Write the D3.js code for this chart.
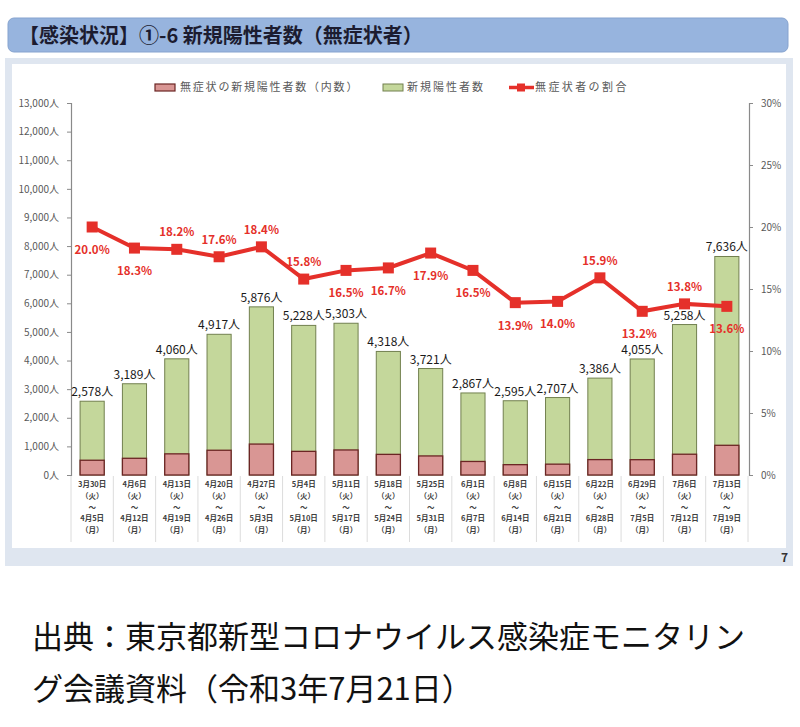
<!DOCTYPE html>
<html><head><meta charset="utf-8">
<script src="https://cdn.jsdelivr.net/npm/d3@7"></script>
<style>
html,body{margin:0;padding:0;background:#fff;}
svg{display:block;font-family:"Noto Sans CJK JP","Noto Sans",sans-serif;}
</style></head>
<body>
<svg id="chart" width="800" height="727"></svg>
<script>
// ---- data ----
const startDates = ["3月30日","4月6日","4月13日","4月20日","4月27日","5月4日","5月11日","5月18日","5月25日","6月1日","6月8日","6月15日","6月22日","6月29日","7月6日","7月13日"];
const endDates   = ["4月5日","4月12日","4月19日","4月26日","5月3日","5月10日","5月17日","5月24日","5月31日","6月7日","6月14日","6月21日","6月28日","7月5日","7月12日","7月19日"];
const newCases   = [2578,3189,4060,4917,5876,5228,5303,4318,3721,2867,2595,2707,3386,4055,5258,7636];
const asympCases = [516,584,739,865,1081,826,875,721,666,473,361,379,538,535,726,1038];
const asympRatio = [20.0,18.3,18.2,17.6,18.4,15.8,16.5,16.7,17.9,16.5,13.9,14.0,15.9,13.2,13.8,13.6];
const ratioLabelSide = ["below","below","above","above","above","above","below","below","below","below","below","below","above","below","above","below"];
const leftTicks  = [0,1000,2000,3000,4000,5000,6000,7000,8000,9000,10000,11000,12000,13000];
const rightTicks = [0,5,10,15,20,25,30];
const legendLabels = ["無症状の新規陽性者数（内数）","新規陽性者数","無症状者の割合"];
const titleText = "【感染状況】①-6 新規陽性者数（無症状者）";
const footerLines = ["出典：東京都新型コロナウイルス感染症モニタリン","グ会議資料（令和3年7月21日）"];

const svg = d3.select("#chart");
const idx = d3.range(newCases.length);

// ---- header ----
svg.append("rect").attr("x",8).attr("y",18).attr("width",780).attr("height",34).attr("rx",6)
  .attr("fill","#97b4de").attr("stroke","#86a3cf").attr("stroke-width",1);
svg.append("text").attr("x",19).attr("y",43).attr("font-size",20).attr("font-weight",700)
  .attr("fill","#1c1c30").text(titleText);

// ---- panel ----
svg.append("rect").attr("x",5).attr("y",58).attr("width",788).attr("height",508).attr("fill","#dfe6f0");
svg.append("rect").attr("x",12).attr("y",64).attr("width",774).attr("height",484).attr("fill","#fff");
svg.append("text").attr("x",788).attr("y",562).attr("text-anchor","end").attr("font-size",12)
  .attr("font-weight",700).attr("fill","#333").text("7");

// ---- scales ----
const x = d3.scaleBand().domain(idx).range([71,748]).paddingInner(0.43).paddingOuter(0.215);
const y = d3.scaleLinear().domain([0,13000]).range([475,103]);
const y2 = d3.scaleLinear().domain([0,30]).range([475,103]);

// ---- axes ----
const axL = svg.append("g").attr("transform","translate(71,0)")
  .call(d3.axisLeft(y).tickValues(leftTicks).tickSize(4).tickPadding(8).tickFormat(d=>d3.format(",")(d)+"人"));
const axR = svg.append("g").attr("transform","translate(749,0)")
  .call(d3.axisRight(y2).tickValues(rightTicks).tickSize(4).tickPadding(8).tickFormat(d=>d+"%"));
[axL,axR].forEach(a=>{
  a.select(".domain").attr("stroke","#8a8a8a").attr("stroke-width",1.2);
  a.selectAll(".tick line").attr("stroke","#8a8a8a");
  a.selectAll(".tick text").attr("fill","#595959").attr("font-size",10)
   .attr("font-family","'Noto Sans CJK JP','Noto Sans',sans-serif");
});

// ---- x category separators & labels ----
const sepX = idx.map(i=>x(i) - x.step()*x.paddingInner()/2).concat([x(newCases.length-1)+x.bandwidth()+x.step()*x.paddingInner()/2]);
svg.append("g").selectAll("line").data(sepX).join("line")
  .attr("x1",d=>d).attr("x2",d=>d).attr("y1",476).attr("y2",542)
  .attr("stroke","#dcdcdc").attr("stroke-width",1);
const xl = svg.append("g").selectAll("g").data(idx).join("g")
  .attr("transform",i=>`translate(${x(i)+x.bandwidth()/2},0)`);
const xlines = i=>[startDates[i],"（火）","～",endDates[i],"（月）"];
const xly = [487,499,510,521,533];
xl.each(function(i){
  const g = d3.select(this);
  xlines(i).forEach((t,k)=>{
    g.append("text").attr("y",xly[k]).attr("text-anchor","middle").attr("font-size",7.5)
      .attr("font-weight",700).attr("fill","#404040").text(t);
  });
});

// ---- bars ----
svg.append("g").selectAll("rect").data(idx).join("rect")
  .attr("x",i=>x(i)).attr("width",x.bandwidth())
  .attr("y",i=>y(newCases[i])).attr("height",i=>y(0)-y(newCases[i]))
  .attr("fill","#c4d79b").attr("stroke","#72804f").attr("stroke-width",1);
svg.append("g").selectAll("rect").data(idx).join("rect")
  .attr("x",i=>x(i)).attr("width",x.bandwidth())
  .attr("y",i=>y(asympCases[i])).attr("height",i=>y(0)-y(asympCases[i]))
  .attr("fill","#d99694").attr("stroke","#6b2524").attr("stroke-width",1.3);

// bar value labels
svg.append("g").selectAll("text").data(idx).join("text")
  .attr("x",i=>x(i)+x.bandwidth()/2).attr("y",i=>y(newCases[i])-5)
  .attr("text-anchor","middle").attr("font-size",12).attr("fill","#1a1a1a")
  .text(i=>d3.format(",")(newCases[i])+"人");

// ---- ratio line ----
const red = "#e5302a";
const line = d3.line().x(i=>x(i)+x.bandwidth()/2).y(i=>y2(asympRatio[i]));
svg.append("path").datum(idx).attr("d",line).attr("fill","none").attr("stroke",red).attr("stroke-width",4);
svg.append("g").selectAll("rect").data(idx).join("rect")
  .attr("x",i=>x(i)+x.bandwidth()/2-5.5).attr("y",i=>y2(asympRatio[i])-5.5)
  .attr("width",11).attr("height",11).attr("fill",red);
svg.append("g").selectAll("text").data(idx).join("text")
  .attr("x",i=>x(i)+x.bandwidth()/2 - (i===13 ? 3 : 0))
  .attr("y",i=>y2(asympRatio[i]) + (ratioLabelSide[i]==="above" ? -13 : 27))
  .attr("text-anchor","middle").attr("font-size",11.5).attr("font-weight",700).attr("fill",red)
  .text(i=>asympRatio[i].toFixed(1)+"%");

// ---- legend ----
const lg = svg.append("g");
lg.append("rect").attr("x",155).attr("y",84).attr("width",20).attr("height",7)
  .attr("fill","#d99694").attr("stroke","#6b2524").attr("stroke-width",1.2);
lg.append("text").attr("x",180).attr("y",91).attr("font-size",11).attr("letter-spacing",1.8)
  .attr("fill","#595959").text(legendLabels[0]);
lg.append("rect").attr("x",383).attr("y",84).attr("width",20).attr("height",7)
  .attr("fill","#c4d79b").attr("stroke","#72804f").attr("stroke-width",1);
lg.append("text").attr("x",407).attr("y",91).attr("font-size",11).attr("letter-spacing",2)
  .attr("fill","#595959").text(legendLabels[1]);
lg.append("line").attr("x1",509).attr("x2",534).attr("y1",87.5).attr("y2",87.5)
  .attr("stroke",red).attr("stroke-width",3.5);
lg.append("rect").attr("x",517).attr("y",83.5).attr("width",8).attr("height",8).attr("fill",red);
lg.append("text").attr("x",535).attr("y",91).attr("font-size",11).attr("letter-spacing",2.4)
  .attr("fill","#595959").text(legendLabels[2]);

// ---- footer ----
svg.append("g").selectAll("text").data(footerLines).join("text")
  .attr("x",32).attr("y",(d,k)=>648+k*52).attr("font-size",31).attr("fill","#111")
  .text(d=>d);
</script>
</body></html>
